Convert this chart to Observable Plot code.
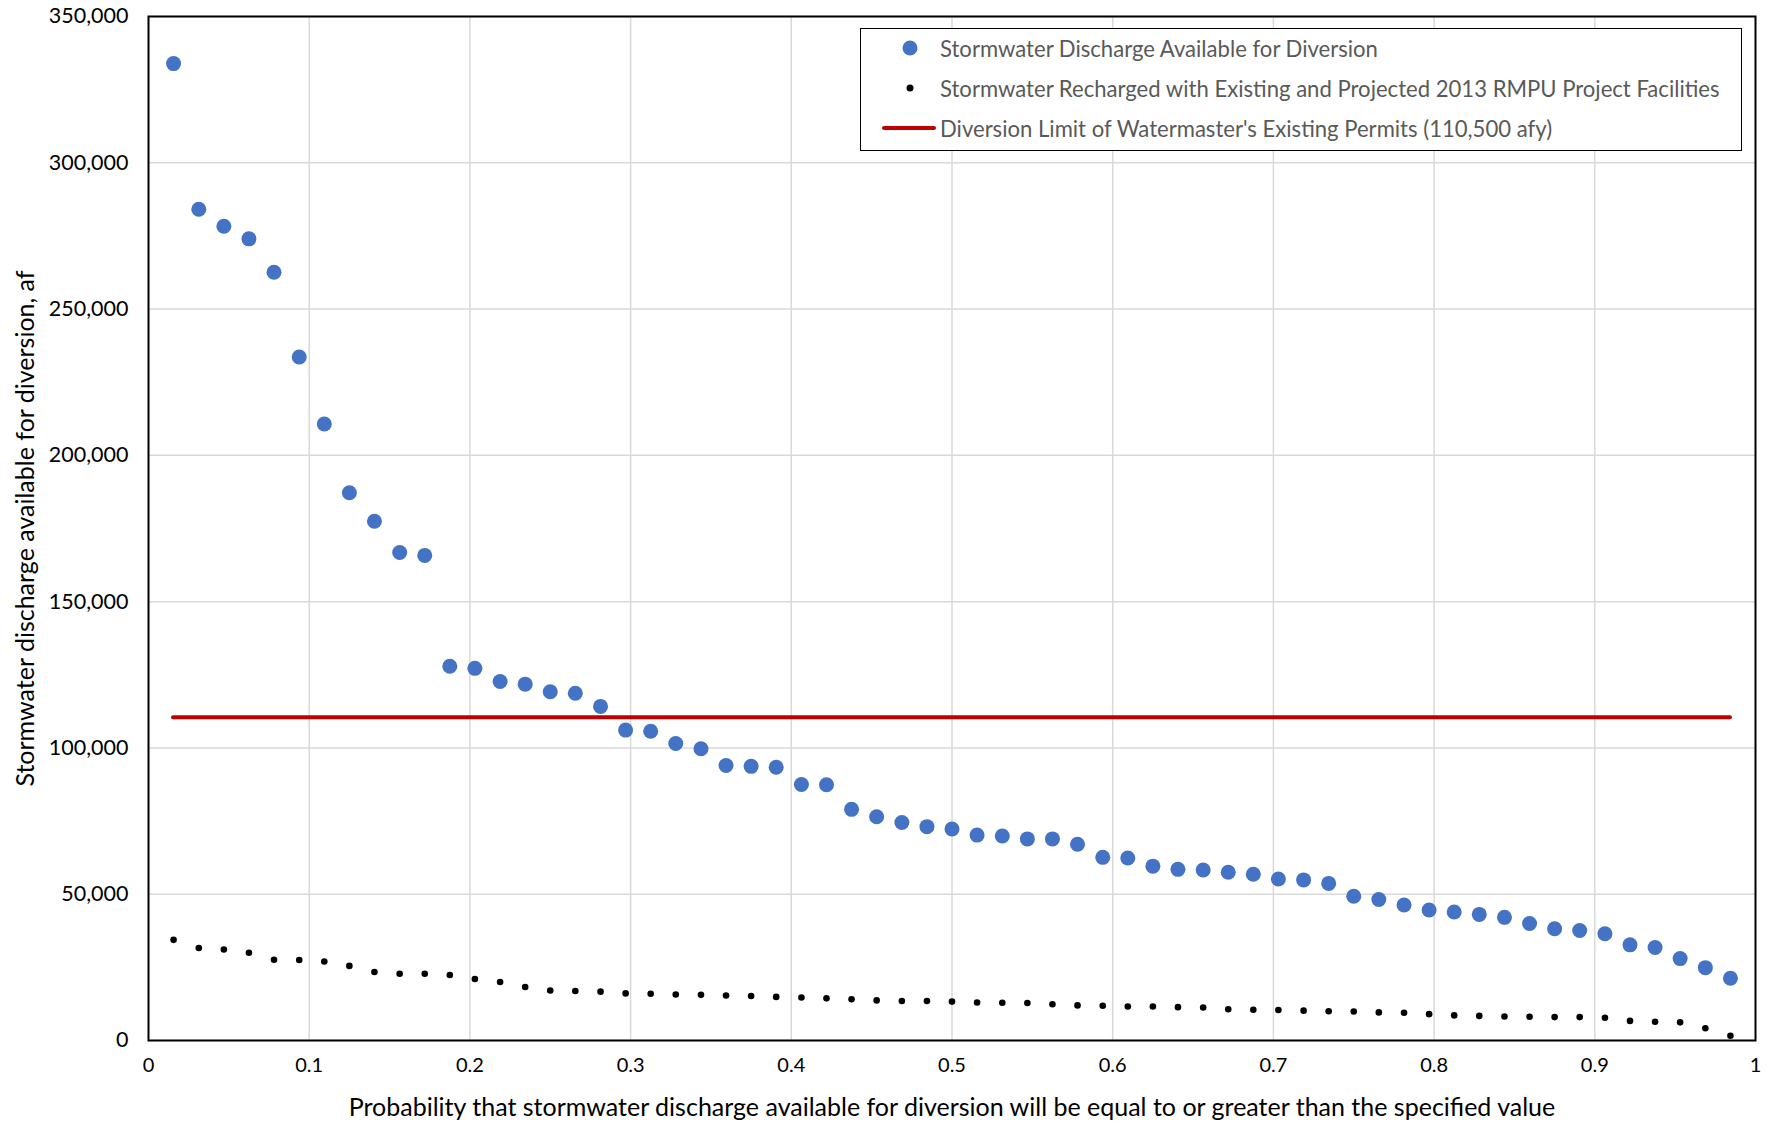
<!DOCTYPE html>
<html>
<head>
<meta charset="utf-8">
<script src="https://cdn.jsdelivr.net/npm/d3@7"></script>
<script src="https://cdn.jsdelivr.net/npm/@observablehq/plot@0.6"></script>
<style>
  html, body { margin: 0; padding: 0; background: #fff; }
  #wrap { position: relative; width: 1772px; height: 1125px; font-family: Lato, "Open Sans", sans-serif; }
  #legend { position: absolute; left: 860px; top: 28px; width: 882px; height: 123px; border: 1.5px solid #000; background: #fff; box-sizing: border-box; }
  .li { position: absolute; left: 0; height: 30px; font-size: 22.1px; color: #595959; white-space: nowrap; }
  .li span.t { position: absolute; left: 79px; top: 50%; transform: translateY(-50%); }
  .sw { position: absolute; top: 50%; transform: translate(-50%, -50%); }
</style>
</head>
<body>
<div id="wrap">
  <div id="chart"></div>
  <div id="legend"></div>
</div>
<script>
// Exceedance probability (plotting position) for each ranked year
const probability = [
  0.0156, 0.0313, 0.0469, 0.0625, 0.0781, 0.0938, 0.1094, 0.1250, 0.1406, 0.1563,
  0.1719, 0.1875, 0.2031, 0.2188, 0.2344, 0.2500, 0.2656, 0.2813, 0.2969, 0.3125,
  0.3281, 0.3438, 0.3594, 0.3750, 0.3906, 0.4063, 0.4219, 0.4375, 0.4531, 0.4688,
  0.4844, 0.5000, 0.5156, 0.5313, 0.5469, 0.5625, 0.5781, 0.5938, 0.6094, 0.6250,
  0.6406, 0.6563, 0.6719, 0.6875, 0.7031, 0.7188, 0.7344, 0.7500, 0.7656, 0.7813,
  0.7969, 0.8125, 0.8281, 0.8438, 0.8594, 0.8750, 0.8906, 0.9063, 0.9219, 0.9375,
  0.9531, 0.9688, 0.9844
];
// Stormwater discharge available for diversion (af)
const dischargeAvailable = [
  333900, 284100, 278300, 274000, 262600, 233600, 210700, 187200, 177500, 166800,
  165800, 127900, 127200, 122700, 121800, 119200, 118700, 114200, 106100, 105700,
  101500, 99700, 94000, 93700, 93400, 87500, 87400, 79000, 76500, 74500,
  73100, 72300, 70200, 69900, 68900, 68900, 67100, 62600, 62400, 59600,
  58500, 58300, 57500, 56800, 55200, 54900, 53700, 49300, 48200, 46300,
  44600, 43900, 43100, 42100, 40000, 38200, 37600, 36500, 32700, 31800,
  28000, 24900, 21300
];
// Stormwater recharged with existing and projected 2013 RMPU facilities (af)
const recharged = [
  34400, 31600, 31100, 30000, 27600, 27500, 27000, 25500, 23400, 22800,
  22800, 22400, 21000, 20000, 18300, 17100, 16900, 16700, 16100, 16000,
  15700, 15600, 15400, 15200, 14900, 14700, 14400, 14100, 13700, 13500,
  13500, 13300, 13000, 12900, 12800, 12400, 12000, 11900, 11600, 11600,
  11400, 11300, 10700, 10500, 10400, 10200, 10000, 9900, 9600, 9500,
  9000, 8600, 8400, 8200, 8100, 8000, 8000, 7800, 6700, 6400,
  6200, 4200, 1600
];
const diversionLimit = 110500;

const xTicks = [0, 0.1, 0.2, 0.3, 0.4, 0.5, 0.6, 0.7, 0.8, 0.9, 1];
const xTickLabels = ["0", "0.1", "0.2", "0.3", "0.4", "0.5", "0.6", "0.7", "0.8", "0.9", "1"];
const yTicks = [0, 50000, 100000, 150000, 200000, 250000, 300000, 350000];
const yTickLabels = ["0", "50,000", "100,000", "150,000", "200,000", "250,000", "300,000", "350,000"];

const seriesNames = [
  "Stormwater Discharge Available for Diversion",
  "Stormwater Recharged with Existing and Projected 2013 RMPU Project Facilities",
  "Diversion Limit of Watermaster's Existing Permits (110,500 afy)"
];
const xLabel = "Probability that stormwater discharge available for diversion will be equal to or greater than the specified value";
const yLabel = "Stormwater discharge available for diversion, af";

const blue = "#4472C4", red = "#C00000", black = "#000000";

const availData = probability.map((p, i) => ({p, v: dischargeAvailable[i]}));
const rechData = probability.map((p, i) => ({p, v: recharged[i]}));

const chart = Plot.plot({
  width: 1772,
  height: 1125,
  marginLeft: 148,
  marginRight: 17,
  marginTop: 16,
  marginBottom: 85,
  style: { fontFamily: "Lato, 'Open Sans', sans-serif", background: "#fff", color: "#000" },
  x: { domain: [0, 1] },
  y: { domain: [0, 350000] },
  marks: [
    Plot.gridX(xTicks, { stroke: "#d9d9d9", strokeOpacity: 1, strokeWidth: 1.5 }),
    Plot.gridY(yTicks, { stroke: "#d9d9d9", strokeOpacity: 1, strokeWidth: 1.5 }),
    Plot.axisX({ ticks: xTicks, tickFormat: (d) => xTickLabels[xTicks.indexOf(d)], tickSize: 0, tickPadding: 17, fontSize: 20, label: null }),
    Plot.axisY({ ticks: yTicks, tickFormat: (d) => yTickLabels[yTicks.indexOf(d)], tickSize: 0, tickPadding: 20, fontSize: 21.5, label: null }),
    Plot.ruleY([diversionLimit], { x1: probability[0], x2: probability[probability.length - 1], stroke: red, strokeWidth: 4, strokeLinecap: "round" }),
    Plot.dot(availData, { x: "p", y: "v", r: 7.5, fill: blue, stroke: "none" }),
    Plot.dot(rechData, { x: "p", y: "v", r: 3.3, fill: black, stroke: "none" }),
    Plot.frame({ stroke: "#000", strokeWidth: 2 }),
    Plot.text([yLabel], { frameAnchor: "left", textAnchor: "middle", rotate: -90, dx: -123, fontSize: 25, fill: "#000" }),
    Plot.text([xLabel], { frameAnchor: "bottom", textAnchor: "middle", dy: 75, fontSize: 25, fill: "#000" })
  ]
});
document.getElementById("chart").appendChild(chart);

// Legend
const legend = document.getElementById("legend");
const rowsTop = [4, 44, 84];
seriesNames.forEach((name, i) => {
  const row = document.createElement("div");
  row.className = "li";
  row.style.top = rowsTop[i] + "px";
  row.style.width = "100%";
  const sw = document.createElement("div");
  sw.className = "sw";
  if (i === 0) { sw.style.left = "49px"; sw.style.width = "15px"; sw.style.height = "15px"; sw.style.borderRadius = "50%"; sw.style.background = blue; }
  if (i === 1) { sw.style.left = "49px"; sw.style.width = "7px"; sw.style.height = "7px"; sw.style.borderRadius = "50%"; sw.style.background = black; }
  if (i === 2) { sw.style.left = "48px"; sw.style.width = "54px"; sw.style.height = "4px"; sw.style.borderRadius = "2px"; sw.style.background = red; }
  const t = document.createElement("span");
  t.className = "t";
  t.textContent = name;
  row.appendChild(sw);
  row.appendChild(t);
  legend.appendChild(row);
});
</script>
</body>
</html>
